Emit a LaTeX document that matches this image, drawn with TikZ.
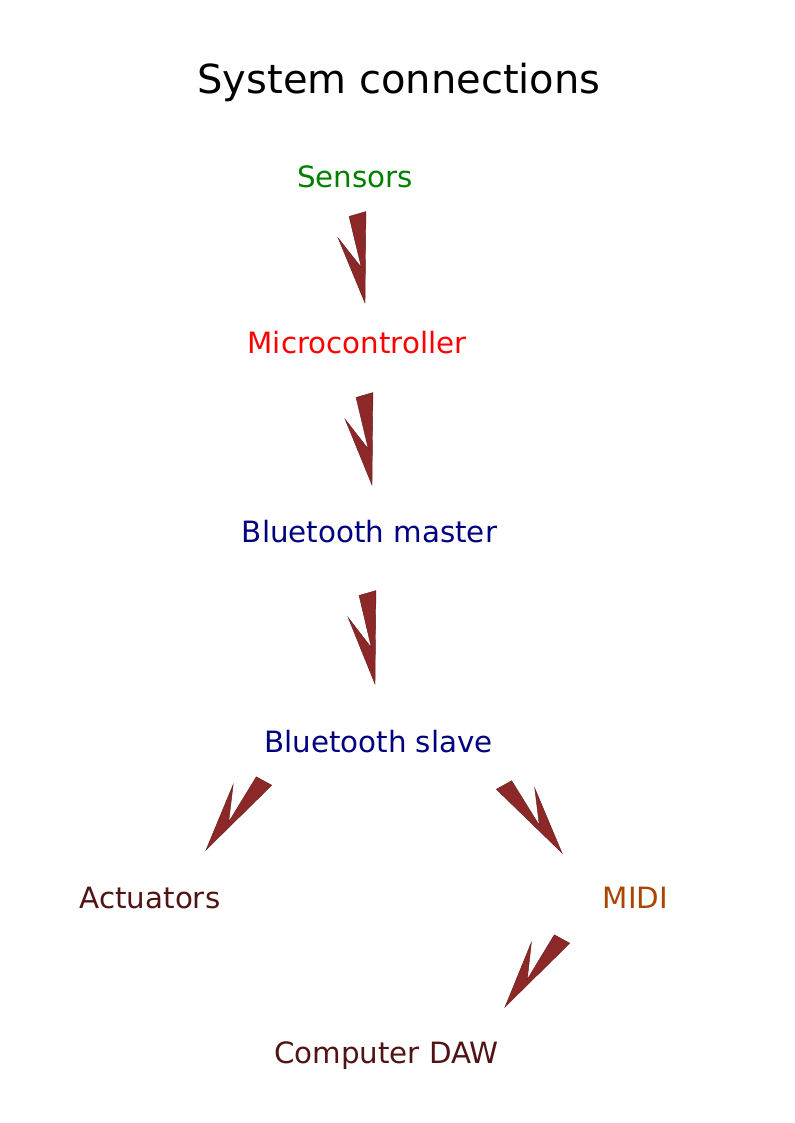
\documentclass[tikz,border=0pt]{standalone}
\usepackage{fontspec}
\setmainfont{DejaVu Sans}
\usetikzlibrary{calc}
\definecolor{sensorgreen}{RGB}{0,128,0}
\definecolor{microred}{RGB}{255,0,0}
\definecolor{btblue}{RGB}{0,0,128}
\definecolor{outbrown}{RGB}{80,20,20}
\definecolor{midiorange}{RGB}{170,68,0}
\definecolor{boltred}{RGB}{140,40,40}
\tikzset{
  lbl/.style={anchor=base,inner sep=0pt,font=\fontsize{22}{26}\selectfont},
  boltfill/.style={fill=boltred,draw=boltred!70!black,line width=0.3pt}
}
% lightning bolt from #2 to #3, #1 picks the side of the kink
\newcommand{\bolt}[3][-90]{%
  \filldraw[boltfill] ($(#2)!1.3pt!(#3)!6.45pt!#1:(#3)$) -- ($(#2)!-1.3pt!(#3)!6.45pt!180+#1:(#3)$) -- (#3)
    -- ($(#2)!0.25!(#3)!16pt!#1:(#3)$) -- ($(#2)!0.6!(#3)!0.5pt!#1:(#3)$) -- cycle;}
\begin{document}
\begin{tikzpicture}[x=0.75pt,y=-0.75pt]
  \useasboundingbox (0,0) rectangle (794,1123);
  % title
  \node[anchor=base,inner sep=0pt,font=\fontsize{30}{36}\selectfont] (title) at (399,94) {System connections};
  % blocks
  \node[lbl,sensorgreen] (sensors) at (355,188) {Sensors};
  \node[lbl,microred] (micro) at (357,353) {Microcontroller};
  \node[lbl,btblue] (master) at (369.5,542) {Bluetooth master};
  \node[lbl,btblue] (slave) at (378.5,752) {Bluetooth slave};
  \node[lbl,outbrown] (act) at (150,908) {Actuators};
  \node[lbl,midiorange] (midi) at (635.5,908) {MIDI};
  \node[lbl,outbrown] (daw) at (386.5,1063) {Computer DAW};
  % bolt ends
  \coordinate (s1) at ([shift={(2.5,26)}]sensors.base);
  \coordinate (e1) at ([shift={(8,-50)}]micro.base);
  \coordinate (s2) at ([shift={(7.5,42)}]micro.base);
  \coordinate (e2) at ([shift={(2.5,-57)}]master.base);
  \coordinate (s3) at ([shift={(-2,51)}]master.base);
  \coordinate (e3) at ([shift={(-3.5,-68)}]slave.base);
  \coordinate (s4) at ([shift={(-114.5,29)}]slave.base);
  \coordinate (e4) at ([shift={(56,-58)}]act.base);
  \coordinate (s5) at ([shift={(125.5,33)}]slave.base);
  \coordinate (e5) at ([shift={(-73.5,-55)}]midi.base);
  \coordinate (s6) at ([shift={(-73.5,31)}]midi.base);
  \coordinate (e6) at ([shift={(118.5,-56)}]daw.base);
  % connections
  \bolt{s1}{e1}
  \bolt{s2}{e2}
  \bolt{s3}{e3}
  \bolt{s4}{e4}
  \bolt[90]{s5}{e5}
  \bolt{s6}{e6}
\end{tikzpicture}
\end{document}
